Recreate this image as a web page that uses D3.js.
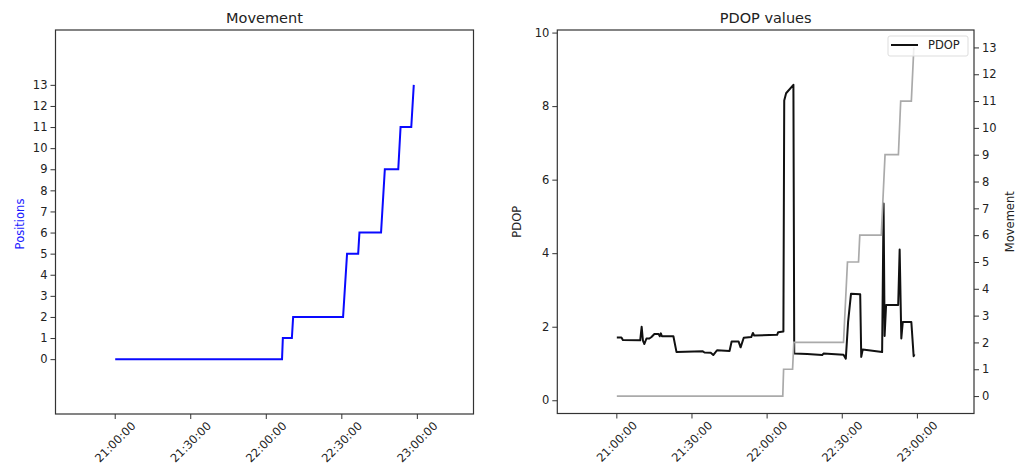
<!DOCTYPE html>
<html>
<head>
<meta charset="utf-8">
<script src="https://cdn.jsdelivr.net/npm/d3@7"></script>
<style>
  body { margin: 0; background: #fff; }
  text { font-family: "DejaVu Sans", sans-serif; fill: #222; }
  .tick line { stroke: #333; }
  .domain { display: none; }
</style>
</head>
<body>
<div id="chart"></div>
<script>
// Movement (number of positions) over time
const moveTimes = ["21:00:00", "22:06:15", "22:06:35", "22:10:10", "22:10:40", "22:30:30", "22:32:05",
  "22:36:30", "22:37:00", "22:45:35", "22:47:05", "22:52:25", "22:53:20", "22:57:35", "22:58:35"];
const moveValues = [0, 0, 1, 1, 2, 2, 5, 5, 6, 6, 9, 9, 11, 11, 13];

// PDOP values over time
const pdopTimes = ["21:00:00", "21:01:50", "21:02:25", "21:09:20", "21:09:55", "21:10:25", "21:11:00",
  "21:11:50", "21:13:00", "21:13:50", "21:15:00", "21:16:40", "21:17:10", "21:17:35", "21:18:00",
  "21:22:35", "21:23:50", "21:34:20", "21:35:00", "21:37:30", "21:38:30", "21:39:20", "21:40:00",
  "21:45:00", "21:45:50", "21:48:35", "21:49:25", "21:50:40", "21:53:40", "21:54:20", "21:54:50",
  "22:04:00", "22:04:25", "22:06:30", "22:06:50", "22:07:35", "22:10:30", "22:10:50", "22:16:00",
  "22:22:00", "22:22:30", "22:30:30", "22:31:25", "22:32:20", "22:33:30", "22:37:10", "22:37:35",
  "22:38:10", "22:45:55", "22:46:30", "22:46:55", "22:47:30", "22:52:20", "22:52:55", "22:53:35",
  "22:54:10", "22:57:35", "22:58:30", "22:58:50"];
const pdopValues = [1.71, 1.71, 1.64, 1.63, 2.00, 1.62, 1.53,
  1.68, 1.68, 1.72, 1.80, 1.80, 1.74, 1.82, 1.74,
  1.74, 1.31, 1.33, 1.30, 1.29, 1.23, 1.30, 1.36,
  1.34, 1.60, 1.60, 1.44, 1.70, 1.72, 1.83, 1.76,
  1.78, 1.85, 1.87, 8.15, 8.35, 8.58, 1.27, 1.26,
  1.23, 1.27, 1.24, 1.13, 2.13, 2.90, 2.88, 1.18,
  1.38, 1.31, 5.35, 1.75, 2.59, 2.59, 4.10, 1.68,
  2.13, 2.13, 1.20, 1.25];

const moveTicks = d3.range(0, 14);
const pdopTicks = [0, 2, 4, 6, 8, 10];

const parseTime = d3.utcParse("%H:%M:%S");
const fmtTime = d3.utcFormat("%H:%M:%S");
const moveData = moveTimes.map((t, i) => ({ t: parseTime(t), v: moveValues[i] }));
const pdopData = pdopTimes.map((t, i) => ({ t: parseTime(t), v: pdopValues[i] }));

const svgWidth = 1029;
const svgHeight = 468;

const svg = d3.select("#chart")
  .append("svg")
  .attr("width", svgWidth)
  .attr("height", svgHeight);

svg.append("rect").attr("width", svgWidth).attr("height", svgHeight).attr("fill", "#fff");

// pad an extent like matplotlib margins
function padded(ext, m) {
  const span = ext[1] - ext[0];
  return [ext[0] - span * m, ext[1] + span * m];
}
function paddedTime(ext, m) {
  const p = padded([+ext[0], +ext[1]], m);
  return [new Date(p[0]), new Date(p[1])];
}

const fontSize = 11.5;

function xAxisRotated(g, xScale, y0) {
  const ticks = xScale.ticks(d3.utcMinute.every(30));
  const tg = g.selectAll(".xt").data(ticks).join("g").attr("class", "xt");
  tg.append("line")
    .attr("x1", d => xScale(d)).attr("x2", d => xScale(d))
    .attr("y1", y0).attr("y2", y0 + 5)
    .attr("stroke", "#333");
  tg.append("text")
    .attr("transform", d => `translate(${xScale(d)}, ${y0 + 28}) rotate(-45)`)
    .attr("text-anchor", "middle")
    .attr("dominant-baseline", "central")
    .attr("font-size", fontSize)
    .text(d => fmtTime(d));
}

function styleAxis(g) {
  g.selectAll(".tick text").attr("font-size", fontSize).attr("fill", "#222");
}

// ---------------- Left panel: Movement ----------------
const L = { left: 55.5, right: 473.5, top: 30, bottom: 414 };
const xL = d3.scaleUtc()
  .domain(paddedTime(d3.extent(moveData, d => d.t), 0.2))
  .range([L.left, L.right]);
const yL = d3.scaleLinear()
  .domain(padded(d3.extent(moveData, d => d.v), 0.2))
  .range([L.bottom, L.top]);

const left = svg.append("g");
left.append("g")
  .attr("transform", `translate(${L.left},0)`)
  .call(d3.axisLeft(yL).tickValues(moveTicks).tickSize(5).tickPadding(3))
  .call(styleAxis);
xAxisRotated(left.append("g"), xL, L.bottom);

left.append("path")
  .datum(moveData)
  .attr("fill", "none")
  .attr("stroke", "#0a0aff")
  .attr("stroke-width", 2)
  .attr("d", d3.line().x(d => xL(d.t)).y(d => yL(d.v)));

left.append("rect")
  .attr("x", L.left).attr("y", L.top)
  .attr("width", L.right - L.left).attr("height", L.bottom - L.top)
  .attr("fill", "none").attr("stroke", "#333").attr("stroke-width", 1.2);

left.append("text")
  .attr("x", (L.left + L.right) / 2).attr("y", 23)
  .attr("text-anchor", "middle")
  .attr("font-size", 14.5)
  .text("Movement");

left.append("text")
  .attr("transform", `translate(20, ${(L.top + L.bottom) / 2 + 2}) rotate(-90)`)
  .attr("text-anchor", "middle")
  .attr("dominant-baseline", "central")
  .attr("font-size", fontSize)
  .style("fill", "#1a1aff")
  .text("Positions");

// ---------------- Right panel: PDOP values ----------------
const R = { left: 557.3, right: 974, top: 30, bottom: 413.5 };
const allTimes = pdopData.map(d => d.t).concat(moveData.map(d => d.t));
const xR = d3.scaleUtc()
  .domain(paddedTime(d3.extent(allTimes), 0.2))
  .range([R.left, R.right]);
const yR = d3.scaleLinear()
  .domain(padded(d3.extent(pdopData, d => d.v), 0.2))
  .range([R.bottom, R.top]);
const yR2 = d3.scaleLinear()
  .domain(padded(d3.extent(moveData, d => d.v), 0.05))
  .range([R.bottom, R.top]);

const right = svg.append("g");
right.append("g")
  .attr("transform", `translate(${R.left},0)`)
  .call(d3.axisLeft(yR).tickValues(pdopTicks).tickSize(5).tickPadding(3))
  .call(styleAxis);
right.append("g")
  .attr("transform", `translate(${R.right},0)`)
  .call(d3.axisRight(yR2).tickValues(moveTicks).tickSize(5).tickPadding(3))
  .call(styleAxis);
xAxisRotated(right.append("g"), xR, R.bottom);

right.append("path")
  .datum(pdopData)
  .attr("fill", "none")
  .attr("stroke", "#111")
  .attr("stroke-width", 2)
  .attr("stroke-linejoin", "round")
  .attr("d", d3.line().x(d => xR(d.t)).y(d => yR(d.v)));

right.append("path")
  .datum(moveData)
  .attr("fill", "none")
  .attr("stroke", "#aaa")
  .attr("stroke-width", 1.7)
  .attr("d", d3.line().x(d => xR(d.t)).y(d => yR2(d.v)));

right.append("rect")
  .attr("x", R.left).attr("y", R.top)
  .attr("width", R.right - R.left).attr("height", R.bottom - R.top)
  .attr("fill", "none").attr("stroke", "#333").attr("stroke-width", 1.2);

right.append("text")
  .attr("x", (R.left + R.right) / 2).attr("y", 23)
  .attr("text-anchor", "middle")
  .attr("font-size", 14.5)
  .text("PDOP values");

right.append("text")
  .attr("transform", `translate(517, ${(R.top + R.bottom) / 2}) rotate(-90)`)
  .attr("text-anchor", "middle")
  .attr("dominant-baseline", "central")
  .attr("font-size", fontSize)
  .text("PDOP");

right.append("text")
  .attr("transform", `translate(1010, ${(R.top + R.bottom) / 2}) rotate(-90)`)
  .attr("text-anchor", "middle")
  .attr("dominant-baseline", "central")
  .attr("font-size", fontSize)
  .text("Movement");

// legend
const lg = right.append("g").attr("transform", "translate(888, 36)");
lg.append("rect")
  .attr("width", 80).attr("height", 20).attr("rx", 2)
  .attr("fill", "#fff").attr("fill-opacity", 0.8)
  .attr("stroke", "#ddd");
lg.append("line")
  .attr("x1", 3).attr("x2", 30).attr("y1", 9).attr("y2", 9)
  .attr("stroke", "#111").attr("stroke-width", 2);
lg.append("text")
  .attr("x", 40).attr("y", 9)
  .attr("dominant-baseline", "central")
  .attr("font-size", fontSize)
  .text("PDOP");
</script>
</body>
</html>
